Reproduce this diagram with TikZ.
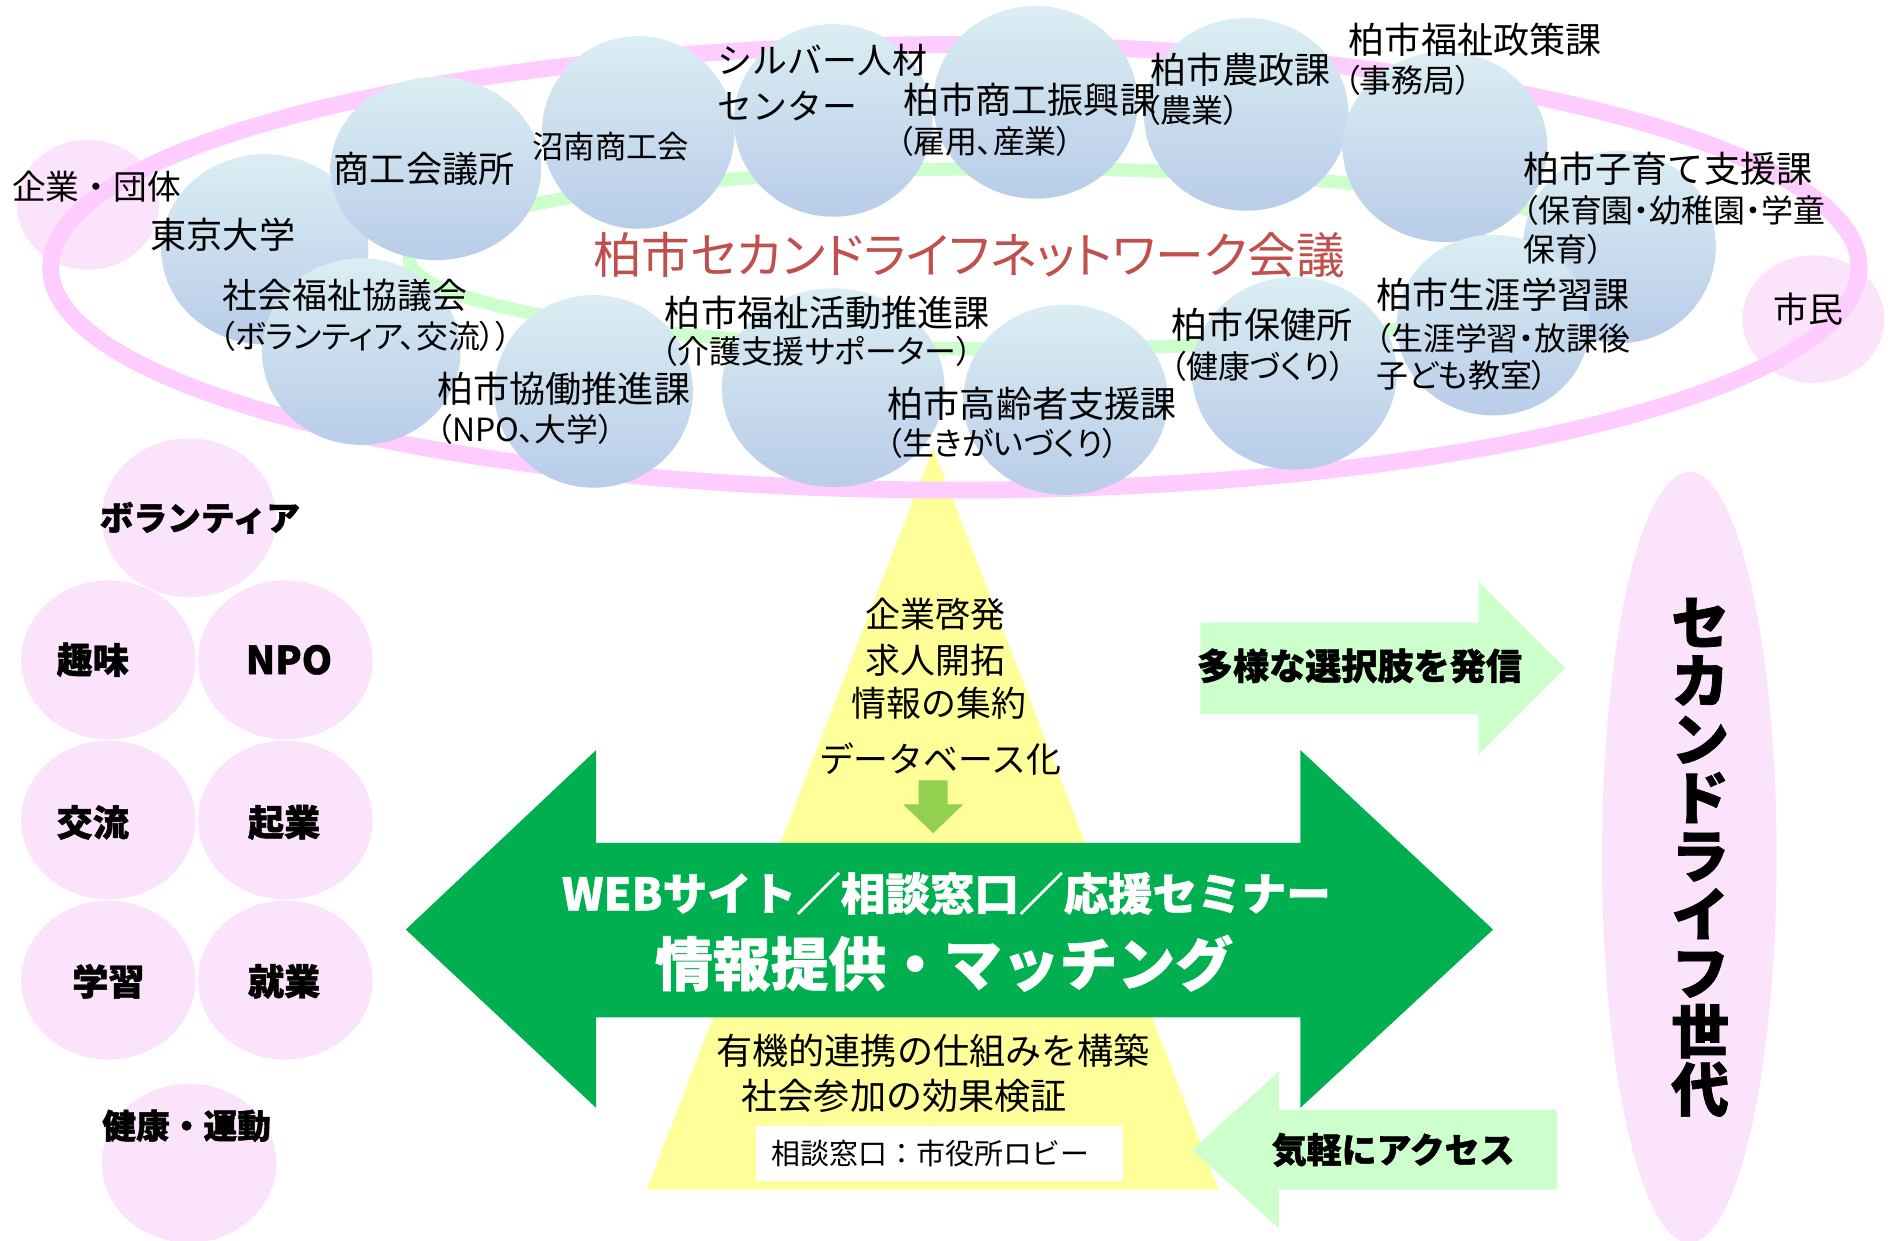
\documentclass[tikz,border=0pt]{standalone}
\usepackage{fontspec}
\setmainfont{Noto Sans CJK JP}
\newfontfamily\jpp{Noto Sans CJK JP}[RawFeature=+palt]
\usetikzlibrary{shapes.geometric}
\definecolor{ringpink}{HTML}{FFCCFF}
\definecolor{pinkfill}{HTML}{FCE3FC}
\definecolor{ringgreen}{HTML}{CCFFCC}
\definecolor{bluetop}{HTML}{DAEEF3}
\definecolor{bluebot}{HTML}{B9CCE9}
\definecolor{tri}{HTML}{FFFF99}
\definecolor{dgreen}{HTML}{00B050}
\definecolor{lgreen}{HTML}{92D050}
\definecolor{pgreen}{HTML}{CCFFCC}
\definecolor{titlered}{HTML}{C0504D}
\tikzset{
  bcirc/.style={ellipse, draw=none, top color=bluetop, bottom color=bluebot, inner sep=0},
  pcirc/.style={ellipse, draw=none, fill=pinkfill, inner sep=0},
  lbl/.style={anchor=west, inner sep=0, font=\fontsize{30}{30}\selectfont},
  sublbl/.style={anchor=west, inner sep=0, font=\jpp\fontsize{26.5}{26.5}\selectfont},
  boldlbl/.style={inner sep=0, font=\fontsize{30}{30}\selectfont\bfseries\addfontfeature{FakeBold=1.2}},
  tritxt/.style={inner sep=0, font=\fontsize{29}{29}\selectfont},
}
\begin{document}
\begin{tikzpicture}[x=1pt,y=-1pt]
\useasboundingbox (0,0) rectangle (1568,1030);
% yellow triangle
\coordinate (tapex) at (775,372);
\coordinate (tleft) at (537,988);
\coordinate (tright) at (1012,988);
\fill[tri] (tapex) -- (tleft) -- (tright) -- cycle;
% pink circles under ring
\node[pcirc, minimum width=118, minimum height=108] (kigyoC) at (73,170) {};
\node[pcirc, minimum width=118, minimum height=106] (shiminC) at (1506,265) {};
% outer ring
\draw[ringpink, line width=14] (793,222) ellipse [x radius=751, y radius=185];
% inner green ring
\draw[ringgreen, line width=11] (845,215) ellipse [x radius=505, y radius=75];
% blue circles
\node[bcirc, minimum width=172, minimum height=158] (todaiC) at (220,207) {};
\node[bcirc, minimum width=175, minimum height=152] (shokoC) at (362,140) {};
\node[bcirc, minimum width=160, minimum height=160] (shonanC) at (530,110) {};
\node[bcirc, minimum width=165, minimum height=160] (silverC) at (692,100) {};
\node[bcirc, minimum width=170, minimum height=160] (shinkoC) at (860,85) {};
\node[bcirc, minimum width=170, minimum height=160] (noseiC) at (1035,95) {};
\node[bcirc, minimum width=160, minimum height=160] (kosodateC) at (1345,205) {};
\node[bcirc, minimum width=170, minimum height=158] (seisakuC) at (1200,122) {};
\node[bcirc, minimum width=160, minimum height=150] (shogaiC) at (1240,270) {};
\node[bcirc, minimum width=170, minimum height=160] (hokenC) at (1075,310) {};
\node[bcirc, minimum width=185, minimum height=165] (katsudoC) at (692,322) {};
\node[bcirc, minimum width=170, minimum height=158] (koreiC) at (885,332) {};
\node[bcirc, minimum width=165, minimum height=155] (shakyoC) at (300,292) {};
\node[bcirc, minimum width=165, minimum height=160] (kyodoC) at (493,325) {};
% labels top area
\node[lbl, font=\fontsize{28}{28}\selectfont] (kigyo) at (10,155) {企業・団体};
\node[lbl] (todai) at (125,195) {東京大学};
\node[lbl] (shoko) at (277,140) {商工会議所};
\node[lbl, font=\fontsize{26}{26}\selectfont] (shonan) at (442,122) {沼南商工会};
\node[lbl, font=\fontsize{29}{29}\selectfont] (silver1) at (596,50) {シルバー人材};
\node[lbl, font=\fontsize{29}{29}\selectfont] (silver2) at (596,88) {センター};
\node[lbl] (shinko) at (750,83) {柏市商工振興課};
\node[sublbl] (shinkoS) at (745,117) {（雇用、産業）};
\node[lbl] (nosei) at (955,58) {柏市農政課};
\node[sublbl] (noseiS) at (950,92) {（農業）};
\node[lbl] (seisaku) at (1120,33) {柏市福祉政策課};
\node[sublbl] (seisakuS) at (1116,67) {（事務局）};
\node[lbl] (kosodate) at (1265,140) {柏市子育て支援課};
\node[sublbl] (kosodateS1) at (1264,175) {（保育園・幼稚園・学童};
\node[sublbl] (kosodateS2) at (1265,207) {保育）};
\node[lbl] (shogai) at (1143,245) {柏市生涯学習課};
\node[sublbl] (shogaiS1) at (1142,281) {（生涯学習・放課後};
\node[sublbl] (shogaiS2) at (1143,312) {子ども教室）};
\node[lbl, font=\fontsize{29}{29}\selectfont] (shimin) at (1473,257) {市民};
\node[lbl] (hoken) at (973,270) {柏市保健所};
\node[sublbl] (hokenS) at (972,304) {（健康づくり）};
\node[lbl] (korei) at (737,335) {柏市高齢者支援課};
\node[sublbl] (koreiS) at (736,368) {（生きがいづくり）};
\node[lbl] (katsudo) at (552,260) {柏市福祉活動推進課};
\node[sublbl] (katsudoS) at (549,292) {（介護支援サポーター）};
\node[lbl] (kyodo) at (363,323) {柏市協働推進課};
\node[sublbl] (kyodoS) at (362,357) {（NPO、大学）};
\node[lbl, font=\fontsize{29}{29}\selectfont] (shakyo) at (185,245) {社会福祉協議会};
\node[sublbl] (shakyoS) at (182,279) {（ボランティア、交流））};
\node[inner sep=0, text=titlered, font=\jpp\fontsize{40.5}{40.5}\selectfont] (title) at (805,212) {柏市セカンドライフネットワーク会議};
% left pink circles
\node[pcirc, minimum width=145, minimum height=132] (volC) at (157,430) {};
\node[pcirc, minimum width=145, minimum height=132] (shumiC) at (90,548) {};
\node[pcirc, minimum width=145, minimum height=132] (npoC) at (237,548) {};
\node[pcirc, minimum width=145, minimum height=132] (koryuC) at (90,681) {};
\node[pcirc, minimum width=145, minimum height=132] (kigyouC) at (237,681) {};
\node[pcirc, minimum width=145, minimum height=132] (gakushuC) at (90,814) {};
\node[pcirc, minimum width=145, minimum height=132] (shugyoC) at (237,814) {};
\node[pcirc, minimum width=145, minimum height=132] (kenkoC) at (157,966) {};
\node[boldlbl, font=\fontsize{28}{28}\selectfont\bfseries\addfontfeature{FakeBold=1.2}] (vol) at (166,430) {ボランティア};
\node[boldlbl] (shumi) at (77,548) {趣味};
\node[boldlbl, font=\fontsize{32}{32}\selectfont\bfseries\addfontfeature{FakeBold=1.2}] (npo) at (240,548) {NPO};
\node[boldlbl] (koryu) at (77,683) {交流};
\node[boldlbl] (kigyou) at (236,683) {起業};
\node[boldlbl] (gakushu) at (90,815) {学習};
\node[boldlbl] (shugyo) at (236,815) {就業};
\node[boldlbl, font=\fontsize{28}{28}\selectfont\bfseries\addfontfeature{FakeBold=1.2}] (kenko) at (155,935) {健康・運動};
% triangle texts
\node[tritxt] (t1) at (777,510) {企業啓発};
\node[tritxt] (t2) at (777,548) {求人開拓};
\node[tritxt] (t3) at (780,584) {情報の集約};
\node[tritxt] (t4) at (781,630) {データベース化};
% small down arrow
\fill[lgreen] (763,648) -- (787,648) -- (787,668) -- (800,668) -- (775,692) -- (750,668) -- (763,668) -- cycle;
% big double arrow
\fill[dgreen] (337,772) -- (495,623) -- (495,700) -- (1080,700) -- (1080,623) -- (1240,772) -- (1080,920) -- (1080,845) -- (495,845) -- (495,920) -- cycle;
\node[inner sep=0, text=white, font=\fontsize{37}{37}\selectfont\bfseries\addfontfeature{FakeBold=1}] (web) at (786,742) {WEBサイト／相談窓口／応援セミナー};
\node[inner sep=0, text=white, font=\fontsize{48}{48}\selectfont\bfseries\addfontfeature{FakeBold=1}] (joho) at (784,800) {情報提供・マッチング};
\node[tritxt, font=\fontsize{30}{30}\selectfont] (yuki) at (775,873) {有機的連携の仕組みを構築};
\node[tritxt, font=\fontsize{30}{30}\selectfont] (shakai) at (751,910) {社会参加の効果検証};
\node[fill=white, minimum width=305, minimum height=45, inner sep=0] (madoguchiBox) at (780,958) {};
\node[inner sep=0, font=\fontsize{24}{24}\selectfont] (madoguchi) at (773,958) {相談窓口：市役所ロビー};
% light green arrows
\fill[pgreen] (997,517) -- (1228,517) -- (1228,483) -- (1300,555) -- (1228,627) -- (1228,593) -- (997,593) -- cycle;
\node[boldlbl] (tayo) at (1129,553) {多様な選択肢を発信};
\fill[pgreen] (1293,922) -- (1062,922) -- (1062,890) -- (990,955) -- (1062,1020) -- (1062,988) -- (1293,988) -- cycle;
\node[boldlbl, font=\fontsize{29}{29}\selectfont\bfseries\addfontfeature{FakeBold=1.2}] (kigaru) at (1157,955) {気軽にアクセス};
% second life ellipse
\node[pcirc, minimum width=145, minimum height=640] (secC) at (1403,712) {};
\node[inner sep=0, align=center, font=\fontsize{48}{48.5}\selectfont\bfseries\addfontfeature{FakeBold=1.2}] (sec) at (1412,712) {セ\\カ\\ン\\ド\\ラ\\イ\\フ\\世\\代};
\end{tikzpicture}
\end{document}
